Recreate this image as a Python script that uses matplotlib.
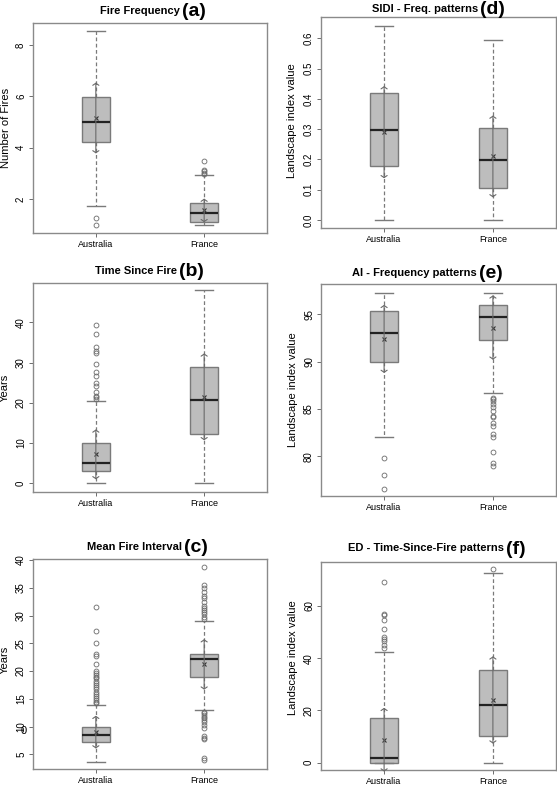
import numpy as np
import matplotlib
matplotlib.use("Agg")
import matplotlib.pyplot as plt

plt.rcParams['font.family'] = ['Liberation Sans', 'DejaVu Sans']

countries = ["Australia", "France"]

# five numbers per box: whisker low, Q1, median, Q3, whisker high
freq_five = [[1.75, 4.21, 5.02, 5.99, 8.55], [1.0, 1.12, 1.45, 1.86, 2.92]]
freq_mean = [5.16, 1.56]
freq_sd = [1.38, 0.46]
freq_out = [[1.26, 1.0], [2.96, 3.0, 3.08, 3.15, 3.5]]

tsf_five = [[0.0, 3.0, 5.0, 10.1, 20.4], [0.0, 12.3, 20.8, 28.9, 48.0]]
tsf_mean = [7.2, 21.5]
tsf_sd = [6.2, 10.8]
tsf_out = [[21.0, 21.4, 21.8, 22.6, 24.2, 25.0, 26.6, 27.6, 29.6, 32.4, 33.0, 33.8, 37.0, 39.3], []]

mfi_five = [[3.6, 7.2, 8.4, 9.9, 13.9], [13.0, 18.9, 22.1, 23.0, 29.0]]
mfi_mean = [9.0, 21.2]
mfi_sd = [2.95, 4.55]
mfi_out = [[14.2, 14.5, 14.8, 15.1, 15.5, 15.9, 16.3, 16.7, 17.1, 17.5, 17.9, 18.3, 18.7,
            19.0, 19.3, 19.7, 20.0, 21.2, 22.7, 23.0, 25.1, 27.3, 31.5],
           [4.0, 4.3, 7.7, 8.0, 8.3, 9.8, 10.3, 10.8, 11.2, 11.5, 11.8, 12.1, 12.4, 12.7,
            29.4, 29.8, 30.2, 30.6, 31.0, 31.3, 31.7, 32.5, 33.2, 33.6, 34.3, 35.0, 35.6, 38.8]]

sidi_five = [[0.0, 0.18, 0.297, 0.42, 0.64], [0.0, 0.105, 0.197, 0.305, 0.595]]
sidi_mean = [0.29, 0.21]
sidi_sd = [0.152, 0.135]
sidi_out = [[], []]

ai_five = [[82.0, 90.0, 93.0, 95.3, 97.2], [86.7, 92.3, 94.7, 96.0, 97.2]]
ai_mean = [92.4, 93.6]
ai_sd = [3.6, 3.4]
ai_out = [[79.8, 78.0, 76.5],
          [86.2, 86.0, 85.8, 85.5, 85.2, 84.8, 84.3, 84.1, 83.5, 83.2, 82.3, 82.0, 80.5, 79.3, 79.0]]

ed_five = [[0.0, 0.0, 1.8, 17.0, 42.3], [0.0, 10.2, 22.1, 35.5, 72.5]]
ed_mean = [8.8, 24.0]
ed_sd = [12.2, 16.7]
ed_out = [[44.0, 45.0, 46.5, 47.5, 48.0, 51.0, 54.5, 56.5, 57.0, 69.0], [74.0]]

W, H = 557, 785
fig = plt.figure(figsize=(W / 100, H / 100), dpi=100)

edge = "#7a7a7a"
fill = "#bdbdbd"


def add_axes(x0, y0, x1, y1):
    # pixel box -> figure fraction
    return fig.add_axes([x0 / W, 1 - y1 / H, (x1 - x0) / W, (y1 - y0) / H])


def panel(ax, five, mean, sd, out, ylim, yticks, yticklabels=None):
    stats = []
    for i in range(2):
        lo, q1, med, q3, hi = five[i]
        stats.append(dict(whislo=lo, q1=q1, med=med, q3=q3, whishi=hi,
                          fliers=out[i], mean=mean[i], label=countries[i]))
    ax.bxp(stats, positions=[1, 2], widths=0.26, patch_artist=True, showmeans=True,
           boxprops=dict(facecolor=fill, edgecolor=edge, linewidth=1.0),
           medianprops=dict(color="#222222", linewidth=1.6),
           whiskerprops=dict(color=edge, linestyle=(0, (3, 2)), linewidth=0.9),
           capprops=dict(color=edge, linewidth=1.0),
           capwidths=0.16,
           flierprops=dict(marker="o", markerfacecolor="none", markeredgecolor="#6a6a6a",
                           markersize=3.5, markeredgewidth=0.6),
           meanprops=dict(marker="x", markeredgecolor="#333333", markersize=3.5,
                          markeredgewidth=0.8))
    for i in range(2):
        ax.annotate("", xy=(i + 1, mean[i] + sd[i]), xytext=(i + 1, mean[i] - sd[i]),
                    annotation_clip=False,
                    arrowprops=dict(arrowstyle="<->,head_length=0.15,head_width=0.22",
                                    color="#6a6a6a", lw=0.8, shrinkA=0, shrinkB=0))
    ax.set_xlim(0.42, 2.58)
    ax.set_ylim(*ylim)
    ax.set_yticks(yticks)
    if yticklabels is not None:
        ax.set_yticklabels(yticklabels)
    ax.set_xticks([1, 2])
    ax.set_xticklabels(countries)
    ax.tick_params(axis="y", labelrotation=90, labelsize=7, length=3, width=0.6,
                   color="#555555", pad=2)
    ax.tick_params(axis="x", labelsize=6.5, length=3, width=0.6, color="#555555", pad=2)
    for lab in ax.get_yticklabels():
        lab.set_va("center")
    for s in ax.spines.values():
        s.set_color("#8a8a8a")
        s.set_linewidth(1.0)


def title(x_end, y, text, letter):
    fig.text(x_end / W, 1 - y / H, text, ha="right", va="center",
             fontsize=8, fontweight="bold")
    fig.text((x_end + 2) / W, 1 - (y + 1) / H, letter, ha="left", va="center",
             fontsize=14, fontweight="semibold")


def ylabel(x, y, text):
    fig.text(x / W, 1 - y / H, text, ha="center", va="center", rotation=90, fontsize=8)


ax_a = add_axes(33, 23, 267, 233)
panel(ax_a, freq_five, freq_mean, freq_sd, freq_out, (0.68, 8.86), [2, 4, 6, 8])
title(180, 11, "Fire Frequency", "(a)")
ylabel(6, 128, "Number of Fires")

ax_d = add_axes(321, 17, 556, 228)
panel(ax_d, sidi_five, sidi_mean, sidi_sd, sidi_out, (-0.026, 0.67),
      [0, 0.1, 0.2, 0.3, 0.4, 0.5, 0.6], ["0.0", "0.1", "0.2", "0.3", "0.4", "0.5", "0.6"])
title(478, 9, "SIDI - Freq. patterns", "(d)")
ylabel(292, 121, "Landscape index value")

ax_b = add_axes(33, 283, 267, 492)
panel(ax_b, tsf_five, tsf_mean, tsf_sd, tsf_out, (-2.15, 49.8), [0, 10, 20, 30, 40])
title(177, 271, "Time Since Fire", "(b)")
ylabel(5, 388, "Years")

ax_e = add_axes(321, 284, 556, 496)
panel(ax_e, ai_five, ai_mean, ai_sd, ai_out, (75.8, 98.2), [80, 85, 90, 95])
title(477, 273, "AI - Frequency patterns", "(e)")
ylabel(293, 390, "Landscape index value")

ax_c = add_axes(33, 559, 267, 769)
panel(ax_c, mfi_five, mfi_mean, mfi_sd, mfi_out, (2.35, 40.2), [5, 10, 15, 20, 25, 30, 35, 40])
title(182, 547, "Mean Fire Interval", "(c)")
ylabel(5, 660, "Years")
fig.text(24 / W, 1 - 731 / H, "0", ha="center", va="center", fontsize=8)

ax_f = add_axes(321, 562, 556, 770)
panel(ax_f, ed_five, ed_mean, ed_sd, ed_out, (-2.8, 76.8), [0, 20, 40, 60])
title(504, 548, "ED - Time-Since-Fire patterns", "(f)")
ylabel(293, 658, "Landscape index value")

fig.savefig("out.png", dpi=100)
